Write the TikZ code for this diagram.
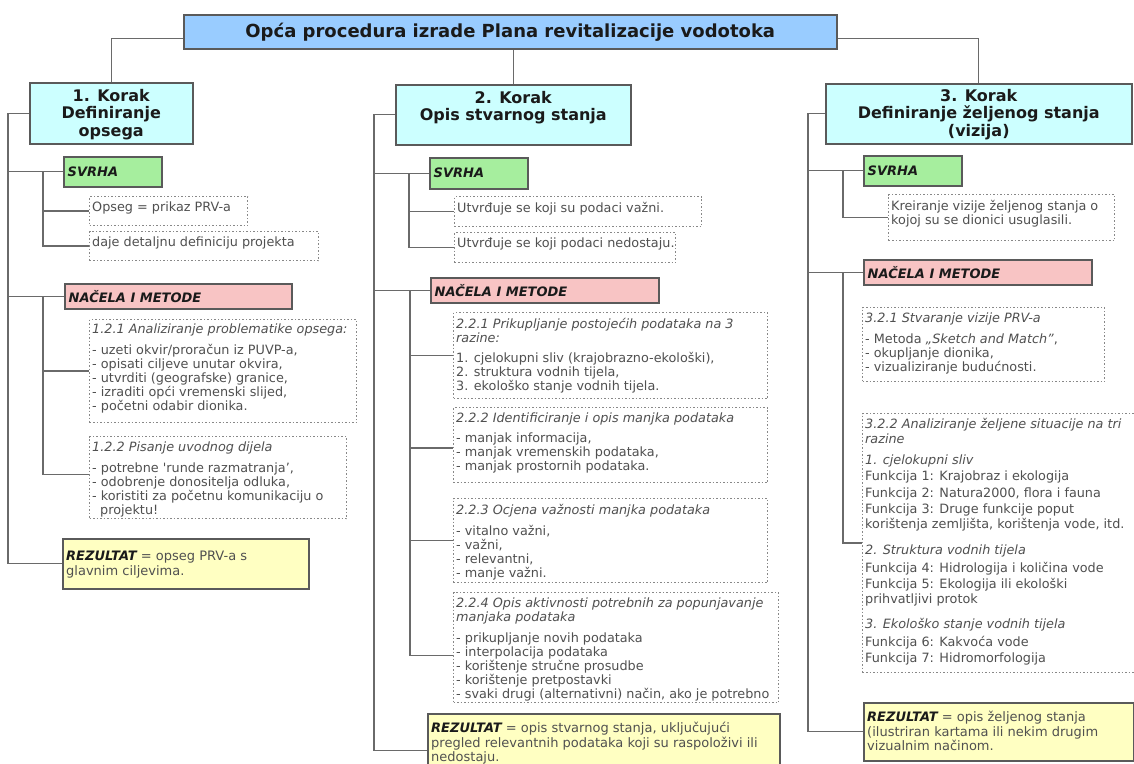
\documentclass[tikz,border=0pt]{standalone}
\usepackage{fontspec}
\setmainfont{DejaVu Sans}
\definecolor{titlefill}{HTML}{99CCFF}
\definecolor{stepfill}{HTML}{CCFFFF}
\definecolor{svfill}{HTML}{A6EE9E}
\definecolor{nmfill}{HTML}{F8C4C4}
\definecolor{rfill}{HTML}{FFFFC2}
\definecolor{bordc}{HTML}{5A5A5A}
\definecolor{linec}{HTML}{6A6A6A}
\definecolor{dotc}{HTML}{888888}
\definecolor{txtc}{HTML}{505050}
\definecolor{darkc}{HTML}{1A1A1A}
\tikzset{
 conn/.style={draw=linec, line width=1.3pt},
 solidbox/.style={draw=bordc, line width=1.5pt, anchor=north west, inner sep=0pt},
 titlebox/.style={solidbox, fill=titlefill, text=darkc, font=\fontsize{18}{20}\selectfont\bfseries},
 stepbox/.style={solidbox, fill=stepfill},
 svbox/.style={solidbox, fill=svfill},
 nmbox/.style={solidbox, fill=nmfill},
 resbox/.style={solidbox, fill=rfill},
 dotbox/.style={draw=dotc, dash pattern=on 1.5pt off 2pt, line width=1.2pt, anchor=north west, inner sep=0pt},
 steptext/.style={anchor=north, inner sep=0pt, align=center, text=darkc, font=\fontsize{16}{17.5}\selectfont\bfseries},
 headtext/.style={anchor=west, inner sep=0pt, text=darkc, font=\fontsize{13}{15}\selectfont\bfseries\itshape},
 itemtext/.style={anchor=north west, inner sep=0pt, align=left, text=txtc, font=\fontsize{12.8}{14}\selectfont},
 restext/.style={anchor=north west, inner sep=0pt, align=left, text=txtc, font=\fontsize{13}{14.5}\selectfont},
}
\newcommand\bx[6]{\node[#1, minimum width=#5pt, minimum height=#6pt] (#2) at (#3,#4) {};}
\newcommand\rz{{\color{darkc}\bfseries\itshape REZULTAT}}
\begin{document}
\begin{tikzpicture}[x=1pt,y=-1pt]
\useasboundingbox (0,0) rectangle (1134,763);
\fill[white] (0,0) rectangle (1134,763);
\clip (0,0) rectangle (1134,763);

% title
\node[titlebox, minimum width=653pt, minimum height=34pt] (title) at (183,14) {Opća procedura izrade Plana revitalizacije vodotoka};

% ---------- column 1
\bx{stepbox}{s1}{29}{82}{163}{61}
\node[steptext] (s1t) at ([yshift=-7pt]s1.north) {1. Korak\\Definiranje\\opsega};
\bx{svbox}{sv1}{63}{156}{98}{30}
\node[headtext] (sv1t) at ([xshift=4.5pt]sv1.west) {SVRHA};
\bx{dotbox}{i11}{89}{196}{158}{29}
\node[itemtext] (i11t) at ([xshift=3pt,yshift=-6pt]i11.north west) {Opseg = prikaz PRV-a};
\bx{dotbox}{i12}{89}{231}{229}{29}
\node[itemtext] (i12t) at ([xshift=3pt,yshift=-6pt]i12.north west) {daje detaljnu definiciju projekta};
\bx{nmbox}{nm1}{64}{283}{227}{25}
\node[headtext] (nm1t) at ([xshift=4.5pt]nm1.west) {NAČELA I METODE};
\bx{dotbox}{i121}{89}{319}{267}{103}
\node[itemtext] (i121t) at ([xshift=3pt,yshift=-5pt]i121.north west) {\textit{1.2.1 Analiziranje problematike opsega:}\\[7pt]- uzeti okvir/proračun iz PUVP-a,\\- opisati ciljeve unutar okvira,\\- utvrditi (geografske) granice,\\- izraditi opći vremenski slijed,\\- početni odabir dionika.};
\bx{dotbox}{i122}{89}{436}{257}{82}
\node[itemtext] (i122t) at ([xshift=3pt,yshift=-6pt]i122.north west) {\textit{1.2.2 Pisanje uvodnog dijela}\\[7pt]- potrebne \textquotesingle runde razmatranja’,\\- odobrenje donositelja odluka,\\- koristiti za početnu komunikaciju o\\\hspace*{8pt}projektu!};
\bx{resbox}{r1}{62}{538}{246}{50}
\node[restext] (r1t) at ([xshift=4pt,yshift=-13pt]r1.north west) {\rz{} = opseg PRV-a s\\glavnim ciljevima.};

% ---------- column 2
\bx{stepbox}{s2}{395}{84}{235}{60}
\node[steptext] (s2t) at ([yshift=-7pt]s2.north) {2. Korak\\Opis stvarnog stanja};
\bx{svbox}{sv2}{429}{157}{98}{31}
\node[headtext] (sv2t) at ([xshift=4.5pt]sv2.west) {SVRHA};
\bx{dotbox}{i21}{454}{196}{247}{30}
\node[itemtext] (i21t) at ([xshift=3pt,yshift=-6pt]i21.north west) {Utvrđuje se koji su podaci važni.};
\bx{dotbox}{i22}{454}{232}{221}{30}
\node[itemtext] (i22t) at ([xshift=3pt,yshift=-6pt]i22.north west) {Utvrđuje se koji podaci nedostaju.};
\bx{nmbox}{nm2}{430}{277}{228}{25}
\node[headtext] (nm2t) at ([xshift=4.5pt]nm2.west) {NAČELA I METODE};
\bx{dotbox}{i221}{453}{312}{314}{86}
\node[itemtext] (i221t) at ([xshift=3pt,yshift=-6pt]i221.north west) {\textit{2.2.1 Prikupljanje postojećih podataka na 3}\\\textit{razine:}\\[6pt]1. cjelokupni sliv (krajobrazno-ekološki),\\2. struktura vodnih tijela,\\3. ekološko stanje vodnih tijela.};
\bx{dotbox}{i222}{453}{407}{314}{75}
\node[itemtext] (i222t) at ([xshift=3pt,yshift=-6pt]i222.north west) {\textit{2.2.2 Identificiranje i opis manjka podataka}\\[6pt]- manjak informacija,\\- manjak vremenskih podataka,\\- manjak prostornih podataka.};
\bx{dotbox}{i223}{453}{498}{314}{84}
\node[itemtext] (i223t) at ([xshift=3pt,yshift=-6pt]i223.north west) {\textit{2.2.3 Ocjena važnosti manjka podataka}\\[7pt]- vitalno važni,\\- važni,\\- relevantni,\\- manje važni.};
\bx{dotbox}{i224}{453}{592}{325}{110}
\node[itemtext] (i224t) at ([xshift=3pt,yshift=-6pt]i224.north west) {\textit{2.2.4 Opis aktivnosti potrebnih za popunjavanje}\\\textit{manjaka podataka}\\[7pt]- prikupljanje novih podataka\\- interpolacija podataka\\- korištenje stručne prosudbe\\- korištenje pretpostavki\\- svaki drugi (alternativni) način, ako je potrebno};
\bx{resbox}{r2}{427}{713}{352}{74}
\node[restext] (r2t) at ([xshift=4pt,yshift=-9pt]r2.north west) {\rz{} = opis stvarnog stanja, uključujući\\pregled relevantnih podataka koji su raspoloživi ili\\nedostaju.};

% ---------- column 3
\bx{stepbox}{s3}{825}{83}{306}{60}
\node[steptext] (s3t) at ([yshift=-6pt]s3.north) {3. Korak\\Definiranje željenog stanja\\(vizija)};
\bx{svbox}{sv3}{863}{155}{98}{30}
\node[headtext] (sv3t) at ([xshift=4.5pt]sv3.west) {SVRHA};
\bx{dotbox}{i31}{888}{194}{226}{46}
\node[itemtext] (i31t) at ([xshift=3pt,yshift=-6pt]i31.north west) {Kreiranje vizije željenog stanja o\\kojoj su se dionici usuglasili.};
\bx{nmbox}{nm3}{863}{259}{228}{25}
\node[headtext] (nm3t) at ([xshift=4.5pt]nm3.west) {NAČELA I METODE};
\bx{dotbox}{i321}{862}{307}{242}{74}
\node[itemtext] (i321t) at ([xshift=3pt,yshift=-6pt]i321.north west) {\textit{3.2.1 Stvaranje vizije PRV-a}\\[7pt]- Metoda \textit{„Sketch and Match”},\\- okupljanje dionika,\\- vizualiziranje budućnosti.};
\bx{dotbox}{i322}{862}{413}{300}{259}
\node[itemtext, font=\fontsize{12.8}{15}\selectfont] (i322t) at ([xshift=3pt,yshift=-5pt]i322.north west) {\textit{3.2.2 Analiziranje željene situacije na tri}\\\textit{razine}\\[6pt]\textit{1. cjelokupni sliv}\\[1pt]Funkcija 1: Krajobraz i ekologija\\[2pt]Funkcija 2: Natura2000, flora i fauna\\[1pt]Funkcija 3: Druge funkcije poput\\korištenja zemljišta, korištenja vode, itd.\\[11pt]\textit{2. Struktura vodnih tijela}\\[3pt]Funkcija 4: Hidrologija i količina vode\\[1pt]Funkcija 5: Ekologija ili ekološki\\prihvatljivi protok\\[10pt]\textit{3. Ekološko stanje vodnih tijela}\\[3pt]Funkcija 6: Kakvoća vode\\[1pt]Funkcija 7: Hidromorfologija};
\bx{resbox}{r3}{863}{702}{270}{58}
\node[restext] (r3t) at ([xshift=4pt,yshift=-9pt]r3.north west) {\rz{} = opis željenog stanja\\(ilustriran kartama ili nekim drugim\\vizualnim načinom.};

% ---------- connectors
\draw[conn] ([yshift=-7pt]title.west) -| (s1.north);
\draw[conn] (title.south -| s2.north) -- (s2.north);
\draw[conn] ([yshift=-7pt]title.east) -| (s3.north);

% column 1
\coordinate (sp1) at ([xshift=-21pt]s1.west);
\draw[conn] (s1.west) -- (sp1) |- (r1.west);
\draw[conn] (sp1) |- (sv1.west);
\draw[conn] (sp1) |- (nm1.west);
\coordinate (sb1) at ([xshift=-20pt]sv1.west);
\draw[conn] (sb1) |- (i11.west);
\draw[conn] (sb1) |- (i12.west);
\coordinate (sm1) at ([xshift=-21pt]nm1.west);
\draw[conn] (sm1) |- (i121.west);
\draw[conn] (sm1) |- ([yshift=3pt]i122.west);

% column 2
\coordinate (sp2) at ([xshift=-21pt]s2.west);
\draw[conn] (s2.west) -- (sp2) |- (r2.west);
\draw[conn] (sp2) |- (sv2.west);
\draw[conn] (sp2) |- (nm2.west);
\coordinate (sb2) at ([xshift=-20pt]sv2.west);
\draw[conn] (sb2) |- (i21.west);
\draw[conn] (sb2) |- (i22.west);
\coordinate (sm2) at ([xshift=-20pt]nm2.west);
\draw[conn] (sm2) |- (i221.west);
\draw[conn] (sm2) |- ([yshift=-3pt]i222.west);
\draw[conn] (sm2) |- (i223.west);
\draw[conn] (sm2) |- ([yshift=-8pt]i224.west);

% column 3
\coordinate (sp3) at ([xshift=-17pt]s3.west);
\draw[conn] (s3.west) -- (sp3) |- (r3.west);
\draw[conn] (sp3) |- (sv3.west);
\draw[conn] (sp3) |- (nm3.west);
\coordinate (sb3) at ([xshift=-20pt]sv3.west);
\draw[conn] (sb3) |- (i31.west);
\coordinate (sm3) at ([xshift=-20pt]nm3.west);
\draw[conn] (sm3) |- (i322.west);
\end{tikzpicture}
\end{document}
